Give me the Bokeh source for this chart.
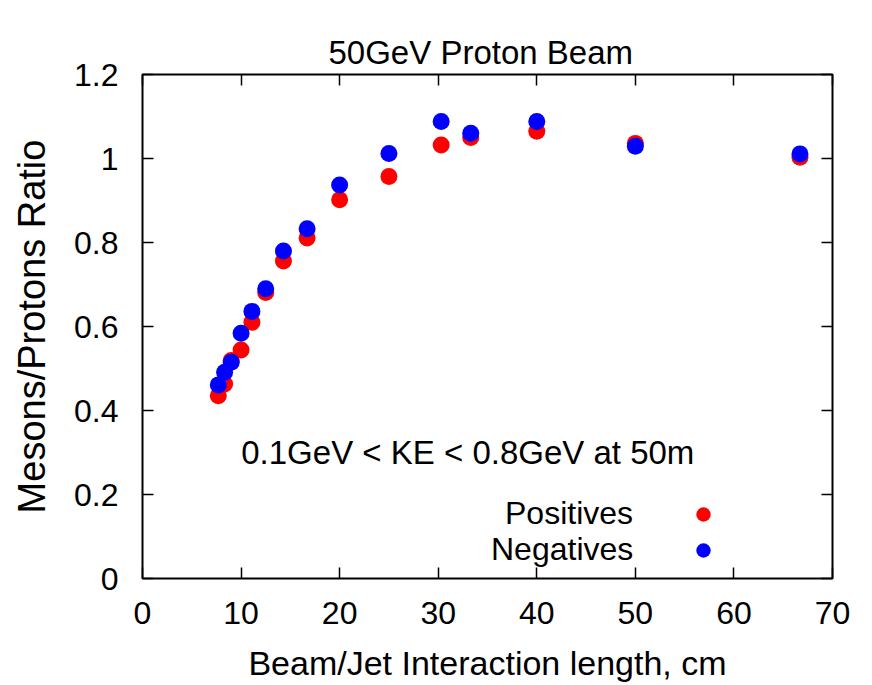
from bokeh.plotting import figure
from bokeh.models import Range1d, LinearAxis, FixedTicker, Legend, LegendItem, Label, Title
from bokeh.embed import file_html
from bokeh.resources import INLINE

# ---- data ----
length_cm = [7.69, 8.33, 9.0, 10.0, 11.1, 12.5, 14.3, 16.7, 20.0, 25.0, 30.3, 33.3, 40.0, 50.0, 66.7]
positives = [0.435, 0.463, 0.519, 0.544, 0.610, 0.681, 0.756, 0.811, 0.902, 0.957, 1.032, 1.050, 1.065, 1.036, 1.003]
negatives = [0.461, 0.491, 0.515, 0.584, 0.636, 0.690, 0.780, 0.833, 0.937, 1.012, 1.088, 1.060, 1.088, 1.029, 1.011]

x_ticks = [0, 10, 20, 30, 40, 50, 60, 70]
x_tick_labels = ["0", "10", "20", "30", "40", "50", "60", "70"]
y_ticks = [0, 0.2, 0.4, 0.6, 0.8, 1.0, 1.2]
y_tick_labels = ["0", "0.2", "0.4", "0.6", "0.8", "1", "1.2"]

title_text = "50GeV Proton Beam"
x_label = "Beam/Jet Interaction length, cm"
y_label = "Mesons/Protons Ratio"
note_text = "0.1GeV < KE < 0.8GeV at 50m"
series_names = ["Positives", "Negatives"]

FONT = "Liberation Sans"
FS = "32px"

p = figure(width=872, height=685, output_backend="svg", toolbar_location=None, title=None,
           x_range=Range1d(0, 70), y_range=Range1d(0, 1.2),
           min_border_left=142, min_border_right=40, min_border_top=74, min_border_bottom=107)

p.xgrid.visible = False
p.ygrid.visible = False
p.outline_line_color = "black"
p.outline_line_width = 2
p.background_fill_color = "white"
p.border_fill_color = "white"

def style_axis(ax, ticks, labels, show_labels):
    ax.ticker = FixedTicker(ticks=ticks)
    ax.major_label_overrides = {t: l for t, l in zip(ticks, labels)}
    ax.axis_line_color = None
    ax.major_tick_in = 11
    ax.major_tick_out = 0
    ax.major_tick_line_color = "black"
    ax.major_tick_line_width = 1.5
    ax.minor_tick_line_color = None
    ax.major_label_text_font = FONT
    ax.major_label_text_font_size = FS
    if show_labels:
        ax.major_label_text_color = "black"
    else:
        ax.major_label_text_color = None
        ax.major_label_standoff = 0

style_axis(p.xaxis[0], x_ticks, x_tick_labels, True)
style_axis(p.yaxis[0], y_ticks, y_tick_labels, True)
p.xaxis[0].major_label_standoff = 23
p.yaxis[0].major_label_standoff = 24

p.xaxis[0].axis_label = x_label
p.yaxis[0].axis_label = y_label
for ax in (p.xaxis[0], p.yaxis[0]):
    ax.axis_label_text_font = FONT
    ax.axis_label_text_font_style = "normal"
    ax.axis_label_text_color = "black"
p.xaxis[0].axis_label_text_font_size = "34px"
p.yaxis[0].axis_label_text_font_size = "38px"
p.xaxis[0].axis_label_standoff = 17
p.yaxis[0].axis_label_standoff = 18

# mirrored tick marks on top and right (gnuplot border style)
top_ax = LinearAxis()
right_ax = LinearAxis()
style_axis(top_ax, x_ticks, x_tick_labels, False)
style_axis(right_ax, y_ticks, y_tick_labels, False)
p.add_layout(top_ax, "above")
p.add_layout(right_ax, "right")

p.add_layout(Title(text=title_text, align="left", offset=186, standoff=4,
                   vertical_align="top",
                   text_font=FONT, text_font_size="33px", text_font_style="normal",
                   text_color="black"), "above")

r_pos = p.scatter(length_cm, positives, size=17, fill_color="#ff0000", line_color=None)
r_neg = p.scatter(length_cm, negatives, size=17, fill_color="#0000ff", line_color=None)

p.add_layout(Label(x=33, y=0.3, text=note_text, text_align="center", text_baseline="middle",
                   text_font=FONT, text_font_size="33px", text_color="black"))

# gnuplot-style key: right-aligned text, then the marker
def text_legend(label, rend, loc):
    return Legend(items=[LegendItem(label=label, renderers=[rend])], location=loc,
                  glyph_width=0, glyph_height=36, label_height=36, label_standoff=0,
                  padding=0, margin=0, spacing=0, border_line_color=None,
                  background_fill_alpha=0, label_text_font=FONT, label_text_font_size=FS,
                  label_text_color="black")

p.add_layout(text_legend(series_names[0], r_pos, (363, 46)), "center")
p.add_layout(text_legend(series_names[1], r_neg, (349, 10)), "center")

marker_legend = Legend(items=[LegendItem(label=" ", renderers=[r_pos]),
                              LegendItem(label=" ", renderers=[r_neg])],
                       location=(542, 10), glyph_width=38, glyph_height=36, label_height=36,
                       label_width=0, label_standoff=0, padding=0, margin=0, spacing=0,
                       border_line_color=None, background_fill_alpha=0,
                       label_text_font_size="1px")
p.add_layout(marker_legend, "center")

open("out.html", "w").write(file_html(p, INLINE))
